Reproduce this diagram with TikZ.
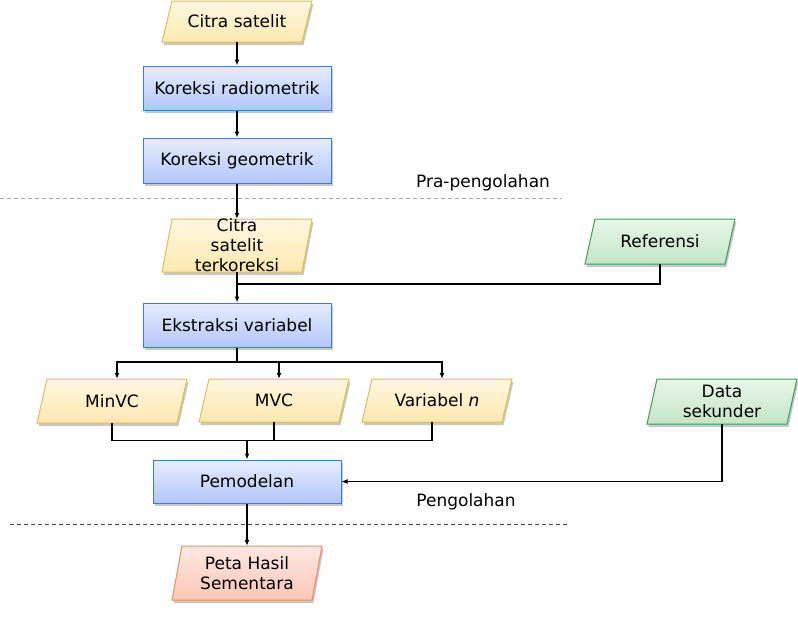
\documentclass[tikz,border=0pt]{standalone}
\usepackage{fontspec}
\setmainfont{DejaVu Sans}
\usetikzlibrary{arrows.meta,shadows,calc}
\definecolor{bluebd}{HTML}{3D7DCA}
\definecolor{bluetop}{HTML}{E6EDFF}
\definecolor{bluebot}{HTML}{B3C6FA}
\definecolor{yelbd}{HTML}{DDBE5A}
\definecolor{yeltop}{HTML}{FFF7E2}
\definecolor{yelbot}{HTML}{FDE8AE}
\definecolor{grnbd}{HTML}{3E9A5A}
\definecolor{grntop}{HTML}{E8F6E8}
\definecolor{grnbot}{HTML}{C3E5C6}
\definecolor{redbd}{HTML}{E8905E}
\definecolor{redtop}{HTML}{FFE8E2}
\definecolor{redbot}{HTML}{FBC6B6}
\tikzset{
  shad/.style={drop shadow={shadow xshift=1.5pt,shadow yshift=-3pt,fill=black!22,opacity=1}},
  procbox/.style={rectangle,draw=bluebd,line width=1pt,top color=bluetop,bottom color=bluebot,
    shad,minimum width=188pt,minimum height=44pt,inner sep=0pt,font=\txtfont},
  yelp/.style={draw=yelbd,line width=1pt,top color=yeltop,bottom color=yelbot,shad},
  grnp/.style={draw=grnbd,line width=1pt,top color=grntop,bottom color=grnbot,shad},
  redp/.style={draw=redbd,line width=1pt,top color=redtop,bottom color=redbot,shad},
  txt/.style={inner sep=0pt,align=center,font=\txtfont},
  ln/.style={line width=1.4pt,black},
  arr/.style={ln,-{Latex[length=6pt,width=5pt]}},
  dashA/.style={line width=1pt,draw=black!35,dash pattern=on 4pt off 3pt},
  dashB/.style={line width=1pt,draw=black!70,dash pattern=on 4pt off 3pt},
}
\newcommand\txtfont{\fontsize{17}{20}\selectfont}
% name, cx, ytop, ybot, style, text
\newcommand\pgram[6]{%
  \path[#5] (#2-65,#3) -- (#2+75,#3) -- (#2+65,#4) -- (#2-75,#4) -- cycle;
  \node[inner sep=0pt,minimum width=140pt,minimum height={(#4-#3)*1pt}] (#1) at (#2,{(#3+#4)/2}) {};
  \node[txt] (#1-t) at (#1.center) {#6};
}
\begin{document}
\begin{tikzpicture}[x=1pt,y=-1pt]
\useasboundingbox[fill=white] (0,0) rectangle (798,627);
% dashed separators
\draw[dashA] (0,198) -- (562,198);
\draw[dashB] (10,524) -- (570,524);
\node[txt] (lpra) at (483,183) {Pra-pengolahan};
\node[txt] (lpeng) at (466,502) {Pengolahan};
% shapes
\pgram{cs}{237}{1}{42}{yelp}{Citra satelit}
\node[procbox] (kr) at (237,88) {Koreksi radiometrik};
\node[procbox,minimum height=45pt] (kg) at (237,160.5) {Koreksi geometrik};
\pgram{cst}{237}{219}{272}{yelp}{Citra\\satelit\\terkoreksi}
\pgram{ref}{660}{219}{264}{grnp}{Referensi}
\node[procbox] (ev) at (237,325) {Ekstraksi variabel};
\pgram{minvc}{112}{379}{423}{yelp}{MinVC}
\pgram{mvc}{274}{379}{422}{yelp}{MVC}
\pgram{varn}{437}{379}{422}{yelp}{Variabel \textit{n}}
\pgram{ds}{722}{379}{424}{grnp}{Data\\sekunder}
\node[procbox,minimum height=43pt] (pm) at (247,481.5) {Pemodelan};
\pgram{peta}{247}{546}{600}{redp}{Peta Hasil\\Sementara}
% junctions
\coordinate (j1) at (237,284);
\coordinate (j2) at (237,362);
\coordinate (j3) at (247,440.7);
% connectors
\draw[arr] (cs.south) -- (kr.north);
\draw[arr] (kr.south) -- (kg.north);
\draw[arr] (kg.south) -- (cst.north);
\draw[arr] (cst.south) -- (ev.north);
\draw[ln] (ref.south) |- (j1);
\draw[ln] (ev.south) -- (j2);
\draw[arr] (j2) -| ([xshift=5pt]minvc.north);
\draw[arr] (j2) -| ([xshift=5pt]mvc.north);
\draw[arr] (j2) -| ([xshift=5pt]varn.north);
\draw[ln] (minvc.south) |- (j3);
\draw[ln] (mvc.south) |- (j3);
\draw[ln] ([xshift=-5pt]varn.south) |- (j3);
\draw[arr] (j3) -- (pm.north);
\draw[arr] (ds.south) |- (pm.east);
\draw[arr] (pm.south) -- (peta.north);
\end{tikzpicture}
\end{document}
